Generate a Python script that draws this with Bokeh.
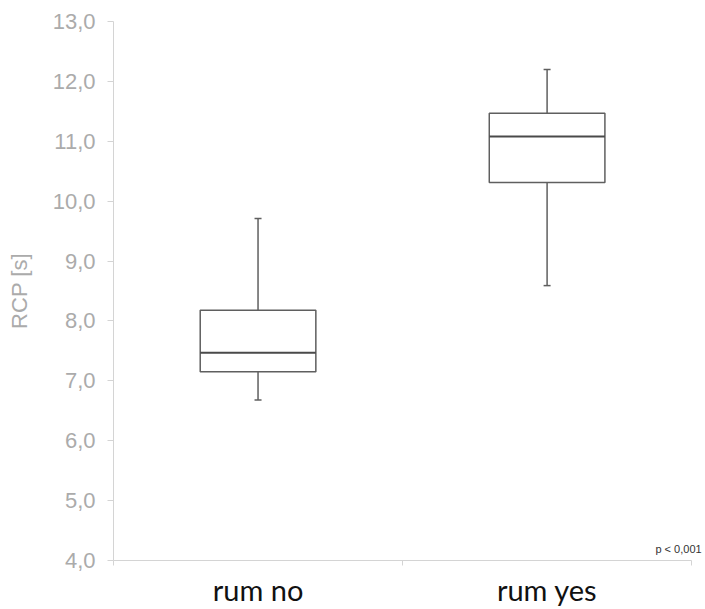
from bokeh.embed import file_html
from bokeh.models import (ColumnDataSource, FixedTicker, Label, LinearAxis,
                          Range1d, TeeHead, Whisker)
from bokeh.plotting import figure
from bokeh.resources import INLINE

# data
groups = ["rum no", "rum yes"]
whisker_low = [6.68, 8.59]
q1 = [7.15, 10.31]
median = [7.47, 11.08]
q3 = [8.18, 11.47]
whisker_high = [9.71, 12.20]

y_ticks = [4, 5, 6, 7, 8, 9, 10, 11, 12, 13]
y_tick_labels = ["4,0", "5,0", "6,0", "7,0", "8,0", "9,0", "10,0", "11,0", "12,0", "13,0"]
p_text = "p < 0,001"

BOX = "#5f5f5f"
AXIS = "#d4d4d4"
LABEL = "#ababab"

# each group sits in the middle of a slot of width 1
pos = [i + 0.5 for i in range(len(groups))]
edges = list(range(len(groups) + 1))

src = ColumnDataSource(data=dict(x=pos, lo=whisker_low, q1=q1, med=median,
                                 q3=q3, hi=whisker_high))

# a little room right of the last slot for the p-value note
p = figure(x_range=Range1d(0, len(groups) + 0.048), y_range=Range1d(4, 13),
           width=705, height=609, output_backend="svg", toolbar_location=None,
           x_axis_location=None,
           min_border_left=113, min_border_right=0, min_border_top=21,
           min_border_bottom=40)
p.outline_line_color = None
p.grid.visible = False

# y axis
ya = p.yaxis[0]
ya.ticker = FixedTicker(ticks=y_ticks)
ya.major_label_overrides = {t: s for t, s in zip(y_ticks, y_tick_labels)}
ya.minor_tick_line_color = None
ya.axis_line_color = AXIS
ya.major_tick_line_color = AXIS
ya.major_tick_in = 0
ya.major_tick_out = 6
ya.major_label_standoff = 12
ya.major_label_text_font = "Liberation Sans"
ya.major_label_text_font_size = "22px"
ya.major_label_text_color = LABEL
ya.axis_label = "RCP [s]"
ya.axis_label_text_font = "Liberation Sans"
ya.axis_label_text_font_style = "normal"
ya.axis_label_text_font_size = "22px"
ya.axis_label_text_color = LABEL
ya.axis_label_standoff = 18

# x axis: small ticks on the slot edges (no labels), then the group names
edge_axis = LinearAxis(ticker=FixedTicker(ticks=edges), bounds=(0, len(groups)))
edge_axis.major_label_overrides = {e: "" for e in edges}
edge_axis.axis_line_color = AXIS
edge_axis.major_tick_line_color = AXIS
edge_axis.major_tick_in = 0
edge_axis.major_tick_out = 5
edge_axis.minor_tick_line_color = None
edge_axis.major_label_text_font_size = "1px"
edge_axis.major_label_standoff = 0
p.add_layout(edge_axis, "below")

name_axis = LinearAxis(ticker=FixedTicker(ticks=pos))
name_axis.major_label_overrides = {x: g for x, g in zip(pos, groups)}
name_axis.axis_line_color = None
name_axis.major_tick_line_color = None
name_axis.minor_tick_line_color = None
name_axis.major_label_standoff = 0
name_axis.major_label_text_font = "Lato"
name_axis.major_label_text_font_size = "29px"
name_axis.major_label_text_color = "#111111"
p.add_layout(name_axis, "below")

# whiskers
p.add_layout(Whisker(source=src, base="x", lower="q3", upper="hi", dimension="height",
                     line_color=BOX, line_width=1.5, lower_head=None,
                     upper_head=TeeHead(size=7, line_color=BOX, line_width=1.5)))
p.add_layout(Whisker(source=src, base="x", lower="lo", upper="q1", dimension="height",
                     line_color=BOX, line_width=1.5, upper_head=None,
                     lower_head=TeeHead(size=7, line_color=BOX, line_width=1.5)))

# boxes and medians
p.vbar(x="x", width=0.4, bottom="q1", top="q3", source=src,
       fill_color="white", line_color=BOX, line_width=1.5)
p.vbar(x="x", width=0.4, bottom="med", top="med", source=src,
       fill_color=None, line_color="#4a4a4a", line_width=2)

p.add_layout(Label(x=len(groups), y=4, text=p_text,
                   text_align="right", x_offset=10, y_offset=6,
                   text_font="Liberation Sans", text_font_size="11px",
                   text_color="#333333"))

open("out.html", "w").write(file_html(p, INLINE))
